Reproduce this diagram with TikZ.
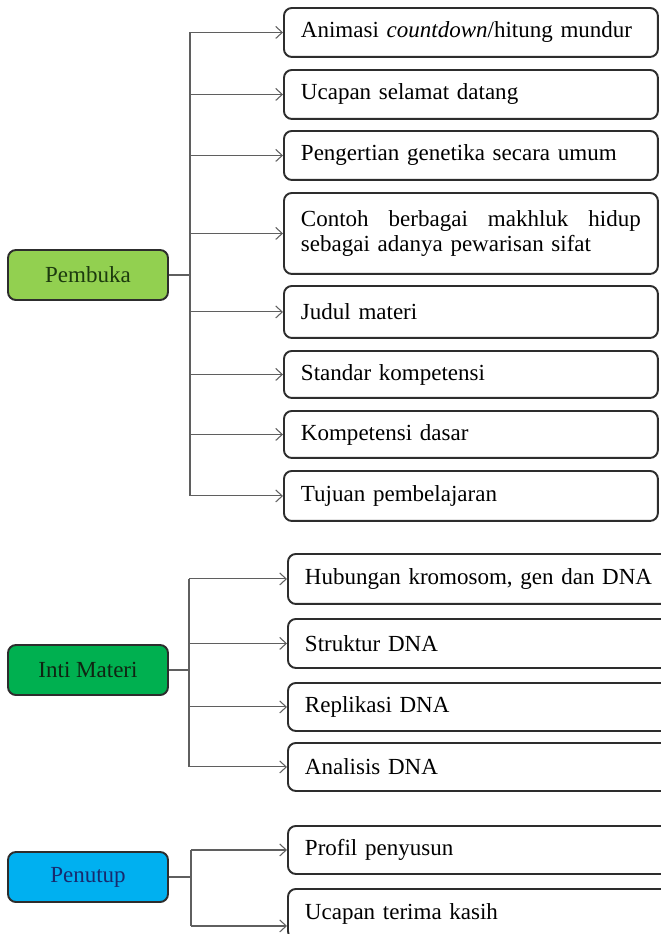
\documentclass[tikz,border=0pt]{standalone}
\usepackage{fontspec}
\setmainfont{Liberation Serif}
\usepackage{tikz}
\usetikzlibrary{positioning, arrows.meta, calc}

\definecolor{bukafill}{RGB}{146,208,80}
\definecolor{bukatext}{RGB}{28,58,14}
\definecolor{intifill}{RGB}{0,176,80}
\definecolor{intitext}{RGB}{16,36,18}
\definecolor{tutupfill}{RGB}{0,176,240}
\definecolor{tutuptext}{RGB}{24,42,110}
\definecolor{boxline}{RGB}{45,45,45}
\definecolor{linkline}{RGB}{95,95,95}

\begin{document}
\begin{tikzpicture}
  [x=0.02cm,y=-0.02cm,
   sectionbox/.style={draw=boxline,line width=1.1pt,rounded corners=4.5pt,
     minimum width=3.2cm,minimum height=1cm,inner sep=0pt,
     font=\fontsize{13.1pt}{14.5pt}\selectfont},
   itembox/.style={draw=boxline,line width=1.1pt,rounded corners=4.5pt,fill=white,
     anchor=north west,inner xsep=0.34cm,inner ysep=0pt,text width=6.8cm,
     align=left,minimum height=0.98cm,
     font=\fontsize{13.1pt}{14.5pt}\selectfont},
   wideitem/.style={itembox,text width=7.4cm},
   link/.style={draw=linkline,line width=0.6pt},
   linkarrow/.style={link,-{Straight Barb[length=1.3mm,width=2.4mm]}}]
  \clip (0,0) rectangle (661,934);

  % Pembuka
  \node (pembuka) at (88,275) [sectionbox,fill=bukafill,text=bukatext] {Pembuka};
  \coordinate (bukatrunk) at (190,275);
  \node (buka1) at (283,7) [itembox] {Animasi \textit{countdown}/hitung mundur};
  \node (buka2) at (283,69) [itembox] {Ucapan selamat datang};
  \node (buka3) at (283,130) [itembox] {Pengertian genetika secara umum};
  \node (buka4) at (283,192) [itembox,minimum height=1.62cm]
    {Contoh\hfill berbagai\hfill makhluk\hfill hidup\\sebagai adanya pewarisan sifat};
  \node (buka5) at (283,285) [itembox,minimum height=1.04cm] {Judul materi};
  \node (buka6) at (283,350) [itembox,minimum height=0.94cm] {Standar kompetensi};
  \node (buka7) at (283,410) [itembox,minimum height=0.94cm] {Kompetensi dasar};
  \node (buka8) at (283,470) [itembox,minimum height=1cm] {Tujuan pembelajaran};
  \draw [link] (pembuka.east) -- (pembuka.east -| bukatrunk);
  \draw [link] (buka1.west -| bukatrunk) -- (buka8.west -| bukatrunk);
  \draw [linkarrow] (buka1.west -| bukatrunk) -- (buka1.west);
  \draw [linkarrow] (buka2.west -| bukatrunk) -- (buka2.west);
  \draw [linkarrow] (buka3.west -| bukatrunk) -- (buka3.west);
  \draw [linkarrow] (buka4.west -| bukatrunk) -- (buka4.west);
  \draw [linkarrow] (buka5.west -| bukatrunk) -- (buka5.west);
  \draw [linkarrow] (buka6.west -| bukatrunk) -- (buka6.west);
  \draw [linkarrow] (buka7.west -| bukatrunk) -- (buka7.west);
  \draw [linkarrow] (buka8.west -| bukatrunk) -- (buka8.west);

  % Inti Materi
  \node (inti) at (88,670) [sectionbox,fill=intifill,text=intitext] {Inti Materi};
  \coordinate (intitrunk) at (189,670);
  \node (inti1) at (287,553) [wideitem,minimum height=1cm] {Hubungan kromosom, gen dan DNA};
  \node (inti2) at (287,618) [wideitem] {Struktur DNA};
  \node (inti3) at (287,682) [wideitem,minimum height=0.96cm] {Replikasi DNA};
  \node (inti4) at (287,742) [wideitem,minimum height=0.96cm] {Analisis DNA};
  \draw [link] (inti.east) -- (inti.east -| intitrunk);
  \draw [link] (inti1.west -| intitrunk) -- (inti4.west -| intitrunk);
  \draw [linkarrow] (inti1.west -| intitrunk) -- (inti1.west);
  \draw [linkarrow] (inti2.west -| intitrunk) -- (inti2.west);
  \draw [linkarrow] (inti3.west -| intitrunk) -- (inti3.west);
  \draw [linkarrow] (inti4.west -| intitrunk) -- (inti4.west);

  % Penutup
  \node (penutup) at (88,877) [sectionbox,fill=tutupfill,text=tutuptext] {Penutup};
  \coordinate (tutuptrunk) at (191,877);
  \node (tutup1) at (287,825) [wideitem,minimum height=0.96cm] {Profil penyusun};
  \node (tutup2) at (287,888) [wideitem,minimum height=1cm] {Ucapan terima kasih};
  \coordinate (tutup2in) at ($(tutup2.west)+(0,12)$);
  \draw [link] (penutup.east) -- (penutup.east -| tutuptrunk);
  \draw [link] (tutup1.west -| tutuptrunk) -- (tutup2in -| tutuptrunk);
  \draw [linkarrow] (tutup1.west -| tutuptrunk) -- (tutup1.west);
  \draw [linkarrow] (tutup2in -| tutuptrunk) -- (tutup2in);
\end{tikzpicture}
\end{document}
